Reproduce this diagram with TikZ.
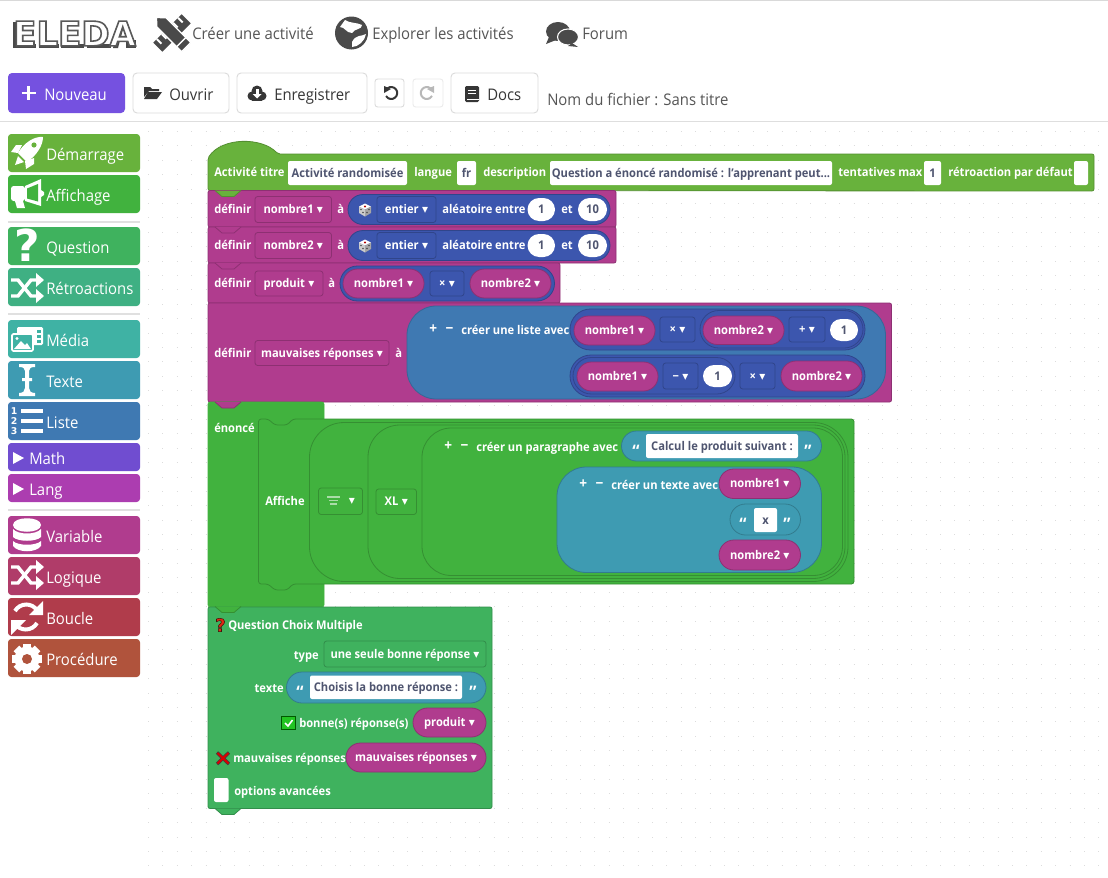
\documentclass[tikz,border=0pt]{standalone}
\usepackage{fontspec}
\usepackage{tikz}
\usetikzlibrary{shapes.misc}
\setmainfont{Open Sans}[FakeStretch=0.93]
\newfontfamily\symf{DejaVu Sans}
\newfontfamily\logof{DejaVu Sans}

\definecolor{navtext}{HTML}{555555}
\definecolor{navicon}{HTML}{4A4A4A}
\definecolor{btntext}{HTML}{363636}
\definecolor{btnline}{HTML}{DBDBDB}
\definecolor{newbtn}{HTML}{7551E0}
\definecolor{griddot}{HTML}{DCDCDC}
\definecolor{startgreen}{HTML}{68B23C}
\definecolor{startdark}{HTML}{538E30}
\definecolor{showgreen}{HTML}{41B23E}
\definecolor{showdark}{HTML}{358F32}
\definecolor{quizgreen}{HTML}{3FB25E}
\definecolor{quizdark}{HTML}{328E4B}
\definecolor{feedgreen}{HTML}{3FB083}
\definecolor{mediateal}{HTML}{3FB2A4}
\definecolor{textblue}{HTML}{3E9BB2}
\definecolor{textdark}{HTML}{327C8E}
\definecolor{listblue}{HTML}{3F79B2}
\definecolor{mathblue}{HTML}{3C56AE}
\definecolor{mathdark}{HTML}{30458B}
\definecolor{mathpurple}{HTML}{704DD0}
\definecolor{langpurple}{HTML}{AC3DB0}
\definecolor{varpink}{HTML}{B03C8E}
\definecolor{vardark}{HTML}{8D3072}
\definecolor{logicrose}{HTML}{B03C69}
\definecolor{looprose}{HTML}{B03C4B}
\definecolor{procbrown}{HTML}{B0533C}
\definecolor{fieldtext}{HTML}{4F5570}
\definecolor{checkgreen}{HTML}{22C422}

\newcommand{\uif}{\fontsize{12}{14}\selectfont}
\newcommand{\blkf}{\fontsize{9}{11}\selectfont\bfseries}
\newcommand{\ddn}{\hspace{2.5pt}{\symf ▾}}
\newcommand{\signs}{{\fontsize{11}{11}\selectfont +\hspace{6.4pt}−}}
% box given by its corners, in pixels of the screenshot
\newcommand{\bx}[7][]{\node[#1,minimum width={((#5)-(#3))*0.75pt},minimum height={((#6)-(#4))*0.75pt},inner sep=0pt,outer sep=0pt] (#2) at ({((#3)+(#5))/2},{((#4)+(#6))/2}) {#7};}
\newcommand{\notch}[3]{\filldraw[#1] (#2,#3) -- ++(7,6) -- ++(12,0) -- ++(7,-6);}

\tikzset{
  tbox/.style={text height=8pt,text depth=2pt},
  uilab/.style={font=\uif,text=navtext,inner sep=0pt,anchor=west,text height=8pt,text depth=3pt,yshift=-2pt},
  toolbtn/.style={rectangle,rounded corners=3pt,draw=btnline,line width=0.7pt,fill=white},
  sidebtn/.style={rectangle,rounded corners=2.5pt,fill=#1},
  sidelab/.style={font=\uif,text=white,inner sep=0pt,anchor=west,text height=8pt,text depth=3pt,yshift=-2.2pt},
  sidesep/.style={draw=black!12,line width=0.9pt},
  griddots/.style={griddot,line width=0.75pt,dash pattern=on 0.8pt off 10pt},
  blab/.style={font=\blkf,text=white,inner sep=0pt,anchor=west,tbox},
  quot/.style={font=\fontsize{13}{13}\selectfont\bfseries,text=white,inner sep=0pt,text height=7pt,text depth=0pt},
  field/.style={rectangle,rounded corners=1.5pt,fill=white,text=fieldtext,font=\blkf,tbox},
  numpill/.style={rounded rectangle,fill=white,text=fieldtext,font=\blkf,tbox},
  magdrop/.style={rectangle,rounded corners=2pt,draw=vardark,line width=0.6pt,fill=varpink,text=white,font=\blkf,tbox},
  bludrop/.style={rectangle,rounded corners=2pt,draw=mathdark,line width=0.6pt,fill=mathblue,text=white,font=\blkf,tbox},
  grndrop/.style={rectangle,rounded corners=2pt,draw=showdark,line width=0.6pt,fill=showgreen,text=white,font=\blkf,tbox},
  qdrop/.style={rectangle,rounded corners=2pt,draw=quizdark,line width=0.6pt,fill=quizgreen,text=white,font=\blkf,tbox},
  magpill/.style={rounded rectangle,draw=vardark,line width=0.6pt,fill=varpink,text=white,font=\blkf,tbox},
  blupill/.style={rounded rectangle,draw=mathdark,line width=0.6pt,fill=mathblue,tbox},
  txtpill/.style={rounded rectangle,draw=textdark,line width=0.6pt,fill=textblue,tbox},
  redge/.style={line width=0.6pt,rounded corners=2pt}
}

\newcommand{\shuffleicon}[2]{
  \begin{scope}[shift={(#1,#2)}]
    \draw[white,line width=2.6pt] (-15,-8) -- (-8,-8) -- (5,8) -- (11,8);
    \draw[white,line width=2.6pt] (-15,8) -- (-8,8) -- (5,-8) -- (11,-8);
    \fill[white] (10,-15) -- (18,-8) -- (10,-1) -- cycle;
    \fill[white] (10,1) -- (18,8) -- (10,15) -- cycle;
  \end{scope}
}
\newcommand{\diceicon}[2]{
  \begin{scope}[shift={(#1,#2)}]
    \fill[white] (-6,-3) -- (0,-6) -- (6,-3) -- (0,0) -- cycle;
    \fill[black!20] (-6,-3) -- (0,0) -- (0,7) -- (-6,3.5) -- cycle;
    \fill[black!35] (6,-3) -- (0,0) -- (0,7) -- (6,3.5) -- cycle;
    \fill[red!70!black] (0,-3) circle (1.1);
    \fill[black!70] (-4,0) circle (0.8) (-2,3) circle (0.8) (4,0) circle (0.8) (2,3) circle (0.8);
  \end{scope}
}

\begin{document}
\begin{tikzpicture}[x=0.75pt,y=-0.75pt]
  \useasboundingbox (0,0) rectangle (1108,878);
  \fill[white] (0,0) rectangle (1108,878);
  \draw[black!15,line width=1pt] (0,0.5) -- (1108,0.5);
  \draw[black!13,line width=0.8pt] (0,121.5) -- (1108,121.5);
  % dots of the workspace
  \foreach \r in {0,...,51}
    \draw[griddots] (148,{131.5+14.4*\r}) -- (1108,{131.5+14.4*\r});

  % top bar
  \foreach \xa/\xb in {16/37,42/60,64/85,90/112}{
    \fill[navicon] (\xa-3,22) rectangle (\xa+1,48);
    \fill[navicon] (\xa-3,44) rectangle (\xb-1,48);
  }
  \fill[navicon] (113,48) -- (121,22) -- (125,22) -- (118,48) -- cycle;
  \fill[navicon] (126,40) rectangle (136,48);
  \node[font=\logof\fontsize{25.5}{26}\selectfont\bfseries,inner sep=0pt,anchor=west] (logo) at (13,33.5) {\special{pdf:code 2 Tr 1.2 w 0.35 0.35 0.35 RG 1 1 1 rg}ELEDA\special{pdf:code 0 Tr}};
  % ruler and pencil
  \begin{scope}[shift={(172,33)}]
    \fill[navicon,rotate=45] (-20,-6.5) rectangle (20,6.5);
    \foreach \t in {-15,-8,8,15}
      \fill[white,rotate=45] (\t-1,-6.5) rectangle (\t+1,0);
    \filldraw[fill=navicon,rotate=-45,draw=white,line width=1pt] (-22,0) -- (-15,-6.5) -- (20,-6.5) -- (20,6.5) -- (-15,6.5) -- cycle;
    \draw[white,rotate=-45,line width=1pt] (13,-6.5) -- (13,6.5);
  \end{scope}
  \node[uilab] (create) at (192,34) {Créer une activité};
  % globe
  \fill[navicon] (351.5,33) circle (16.5);
  \fill[white] (345,20) .. controls (352,24) and (356,22) .. (362,25) .. controls (362,30) and (355,28) .. (352,33) .. controls (346,33) and (345,27) .. (340,27) -- cycle;
  \fill[white] (352,42) .. controls (356,34) and (361,37) .. (366,34) .. controls (365,41) and (358,47) .. (352,47) -- cycle;
  \node[uilab] (explore) at (372,34) {Explorer les activités};
  % speech bubbles
  \fill[navicon] (558,31.5) ellipse (12 and 9.5);
  \fill[navicon] (549,37) -- (546,44) -- (556,40) -- cycle;
  \filldraw[fill=navicon,draw=white,line width=0.8pt] (568,37) ellipse (10.5 and 8);
  \fill[navicon] (572,43) -- (578,47) -- (568,46) -- cycle;
  \node[uilab] (forum) at (582,34) {Forum};

  % toolbar
  \bx[rectangle,rounded corners=3pt,fill=newbtn]{newb}{8}{73}{125}{113}{}
  \draw[white,line width=2.2pt] (21.5,93) -- (35.5,93) (28.5,86) -- (28.5,100);
  \node[uilab,text=white] (newlab) at (44,94) {Nouveau};
  \bx[toolbtn]{openb}{133}{73}{229}{113}{}
  \fill[btntext] (144,87) -- (150,87) -- (152,89) -- (159,89) -- (159,91) -- (149,91) -- (144,97) -- cycle;
  \fill[btntext] (148,92) -- (162,92) -- (157,99) -- (144,99) -- cycle;
  \node[uilab,text=btntext] (openlab) at (169,94) {Ouvrir};
  \bx[toolbtn]{saveb}{237}{73}{367}{113}{}
  \fill[btntext] (252,96) circle (4.5);
  \fill[btntext] (262,96) circle (4.5);
  \fill[btntext] (257,91) circle (5.5);
  \fill[btntext] (252,94) rectangle (262,100.5);
  \fill[white] (255.5,89) rectangle (258.5,94);
  \fill[white] (252.5,94) -- (261.5,94) -- (257,98.5) -- cycle;
  \node[uilab,text=btntext] (savelab) at (274,94) {Enregistrer};
  \bx[toolbtn,rounded corners=2pt]{undob}{375}{79}{404}{107}{}
  \draw[btntext,line width=1.5pt] (386,90) arc (-150:150:6);
  \fill[btntext] (384,86) -- (384,93) -- (391,89) -- cycle;
  \bx[toolbtn,rounded corners=2pt,draw=black!8]{redob}{413}{79}{443}{107}{}
  \draw[black!28,line width=1.5pt] (432,90) arc (-30:-330:6);
  \fill[black!28] (434,86) -- (434,93) -- (427,89) -- cycle;
  \bx[toolbtn]{docsb}{451}{73}{538}{113}{}
  \fill[btntext,rounded corners=1pt] (465,86) rectangle (479,102);
  \fill[white] (468,90) rectangle (476,91);
  \fill[white] (468,93) rectangle (476,94);
  \fill[white] (466.5,98.5) rectangle (479,100);
  \node[uilab,text=btntext] (docslab) at (487,94) {Docs};
  \node[uilab,text=navtext] (filelab) at (547,99) {Nom du fichier : Sans titre};

  % side menu
  \foreach \nm/\ya/\yb/\bcol/\btxt/\tx in {dem/134/172/startgreen/Démarrage/46,aff/175/213/showgreen/Affichage/46,que/227/265/quizgreen/Question/46,ret/268/306/feedgreen/Rétroactions/46,med/320/358/mediateal/Média/46,tex/361/399/textblue/Texte/46,lis/402/440/listblue/Liste/46,mat/443/471/mathpurple/Math/29,lan/474/502/langpurple/Lang/29,var/516/554/varpink/Variable/46,log/557/595/logicrose/Logique/46,bou/598/636/looprose/Boucle/46,pro/639/677/procbrown/Procédure/46}{
    \bx[sidebtn=\bcol]{\nm box}{8}{\ya}{140}{\yb}{}
    \node[sidelab] (\nm lab) at (\tx,{(\ya+\yb)/2+1.5}) {\btxt};
  }
  \draw[sidesep] (8,222) -- (140,222);
  \draw[sidesep] (8,314) -- (140,314);
  \draw[sidesep] (8,510) -- (140,510);
  % rocket
  \begin{scope}[shift={(26,153)}]
    \fill[white] (17,-16) .. controls (8,-17) and (-2,-10) .. (-8,0) -- (1,9) .. controls (10,3) and (17,-7) .. (17,-16) -- cycle;
    \fill[white] (-4,-8) -- (-10,-8) -- (-15,-1) -- (-8,0) -- cycle;
    \fill[white] (8,5) -- (8,11) -- (0,16) -- (-1,8) -- cycle;
    \fill[white] (-8,3) -- (-2,9) -- (-11,12) -- cycle;
    \fill[startgreen] (8,-8) circle (2.6);
  \end{scope}
  % megaphone
  \fill[white,rounded corners=2pt] (11,186) rectangle (25,201);
  \fill[white] (15,201) -- (23,201) -- (25,208) -- (17,208) -- cycle;
  \fill[white] (25,186) -- (41,179) -- (41,206) -- (25,201) -- cycle;
  \fill[showgreen] (27,188.5) -- (38,184) -- (38,201.5) -- (27,198.5) -- cycle;
  \fill[white] (41,190) -- (44,192) -- (44,195) -- (41,197) -- cycle;
  % question mark
  \node[font=\symf\fontsize{33}{33}\selectfont\bfseries,text=white,inner sep=0pt] (quesicon) at (27,245) {?};
  \shuffleicon{26}{288}
  % media
  \fill[white,rounded corners=1pt] (17,327) rectangle (43,345);
  \foreach \hy in {331,336,341}
    \fill[mediateal] (37,\hy-1.5) rectangle (41,\hy+1.5);
  \filldraw[fill=mediateal,draw=white,line width=1.4pt,rounded corners=1pt] (12,334) rectangle (33,351);
  \fill[white] (14,349) -- (21,341) -- (25,345) -- (27,343) -- (31,349) -- cycle;
  \fill[white] (17,338.5) circle (1.6);
  % text cursor
  \fill[white] (19,364) -- (35,364) -- (35,367) .. controls (31,367) and (29,368) .. (29,371) -- (29,378) -- (32,378) -- (32,381) -- (29,381) -- (29,388) .. controls (29,391) and (31,393) .. (35,393) -- (35,396) -- (19,396) -- (19,393) .. controls (23,393) and (25,391) .. (25,388) -- (25,381) -- (22,381) -- (22,378) -- (25,378) -- (25,371) .. controls (25,368) and (23,367) .. (19,367) -- cycle;
  % numbered list
  \foreach \ly/\lnum in {411/1,421/2,431/3}{
    \fill[white] (21,\ly-2) rectangle (43,\ly+2);
    \node[font=\symf\fontsize{7}{7}\selectfont\bfseries,text=white,inner sep=0pt] (num\lnum) at (14,\ly) {\lnum};
  }
  \fill[white] (13,452) -- (24,458) -- (13,464) -- cycle;
  \fill[white] (13,483) -- (24,489) -- (13,495) -- cycle;
  % database
  \fill[white] (13,525) .. controls (13,516) and (41,516) .. (41,525) .. controls (41,534) and (13,534) .. (13,525) -- cycle;
  \fill[white] (13,529) .. controls (18,535) and (36,535) .. (41,529) -- (41,537) .. controls (36,542) and (18,542) .. (13,537) -- cycle;
  \fill[white] (13,541) .. controls (18,546) and (36,546) .. (41,541) -- (41,546) .. controls (36,553) and (18,553) .. (13,546) -- cycle;
  \shuffleicon{26}{575}
  % loop
  \draw[white,line width=3pt] (15,611) arc (-150:-35:13);
  \draw[white,line width=3pt] (37,623) arc (30:145:13);
  \fill[white] (43,601) -- (43,615) -- (29,615) -- cycle;
  \fill[white] (11,635) -- (11,620) -- (26,620) -- cycle;
  % gear
  \foreach \a in {0,45,...,135}
    \fill[white,rotate around={\a:(27,659)}] (23,644) rectangle (31,674);
  \fill[white] (27,659) circle (12.5);
  \fill[procbrown] (27,659) circle (5);

  % activity block
  \filldraw[fill=startgreen,draw=startdark,line width=0.6pt,rounded corners=1.5pt] (208,190.5) -- (208,158) .. controls (222,137) and (262,137) .. (278,154) -- (1094,154) -- (1094,191) -- cycle;
  \node[blab] (acttitle) at (214,172.5) {Activité titre};
  \bx[field]{acttitlef}{288}{161}{407}{185}{Activité randomisée}
  \node[blab] (actlang) at (414,172.5) {langue};
  \bx[field]{actlangf}{457}{161}{476}{185}{fr}
  \node[blab] (actdesc) at (483,172.5) {description};
  \bx[field]{actdescf}{550}{161}{832}{185}{Question a énoncé randomisé : l'apprenant peut...}
  \node[blab] (acttry) at (838,172.5) {tentatives max};
  \bx[field]{acttryf}{924}{161}{941}{185}{1}
  \node[blab] (actfeed) at (948,172.5) {rétroaction par défaut};
  \bx[field]{actfeedf}{1074}{161}{1088}{185}{}

  % set blocks
  \filldraw[fill=varpink,draw=vardark,line width=0.6pt,rounded corners=1.5pt] (208,190.5) rectangle (616,227);
  \filldraw[fill=varpink,draw=vardark,line width=0.6pt,rounded corners=1.5pt] (208,227) rectangle (616,263);
  \filldraw[fill=varpink,draw=vardark,line width=0.6pt,rounded corners=1.5pt] (208,263) rectangle (560,303);
  \filldraw[fill=varpink,draw=vardark,line width=0.6pt,rounded corners=1.5pt] (208,303) rectangle (891.5,402);
  \notch{fill=startgreen,draw=startdark,line width=0.6pt}{215}{190.5}
  \notch{fill=varpink,draw=vardark,line width=0.6pt}{215}{227}
  \notch{fill=varpink,draw=vardark,line width=0.6pt}{215}{263}

  \foreach \rw/\yc/\var in {a/209.5/nombre1,b/245.5/nombre2}{
    \node[blab] (def\rw) at (214,\yc) {définir};
    \bx[magdrop]{var\rw}{255}{\yc-13}{331.5}{\yc+13}{\var\ddn}
    \node[blab] (to\rw) at (337,\yc) {à};
    \bx[blupill]{rand\rw}{348}{\yc-15}{610}{\yc+15}{}
    \diceicon{365}{\yc}
    \bx[bludrop]{kind\rw}{377}{\yc-13}{436}{\yc+13}{entier\ddn}
    \node[blab] (between\rw) at (442,\yc) {aléatoire entre};
    \bx[numpill]{low\rw}{527.5}{\yc-11.5}{555}{\yc+11.5}{1}
    \node[blab] (and\rw) at (561,\yc) {et};
    \bx[numpill]{high\rw}{578}{\yc-11.5}{607}{\yc+11.5}{10}
  }

  \node[blab] (defc) at (214,283.5) {définir};
  \bx[magdrop]{varc}{255}{271}{323}{296}{produit\ddn}
  \node[blab] (toc) at (328,283.5) {à};
  \bx[blupill]{prodc}{340}{266}{554.5}{301}{}
  \bx[magpill]{prodl}{343}{269}{424}{298}{nombre1\ddn}
  \bx[bludrop]{prodop}{430}{271}{464}{296}{×\ddn}
  \bx[magpill]{prodr}{470}{269}{551}{298}{nombre2\ddn}

  \node[blab] (defd) at (214,353) {définir};
  \bx[magdrop]{vard}{255}{340.5}{389}{365.5}{mauvaises réponses\ddn}
  \node[blab] (tod) at (395,353) {à};
  \filldraw[fill=listblue,draw=listblue!85!black,line width=0.6pt,rounded corners=22pt] (407,306) rectangle (885.5,399);
  \node[blab] (listsigns) at (429,329.5) {\signs};
  \node[blab] (listlab) at (461,330) {créer une liste avec};
  % first item
  \bx[blupill]{itema}{570}{309}{865}{350}{}
  \bx[magpill]{itemal}{574}{316}{655}{345}{nombre1\ddn}
  \bx[bludrop]{itemaop}{660}{317}{695}{342}{×\ddn}
  \bx[blupill]{itemar}{700}{310.5}{863}{348}{}
  \bx[magpill]{itemarl}{703}{316}{784}{344.5}{nombre2\ddn}
  \bx[bludrop]{itemarop}{789}{317}{825}{342}{+\ddn}
  \bx[numpill]{itemarr}{830}{319}{858}{341}{1}
  % second item
  \bx[blupill]{itemb}{570}{355}{865}{397}{}
  \bx[blupill]{itembi}{573}{357.5}{735}{394}{}
  \bx[magpill]{itembl}{577}{362}{658}{391}{nombre1\ddn}
  \bx[bludrop]{itembop}{663}{363}{698}{389}{−\ddn}
  \bx[numpill]{itembn}{703}{365}{732}{387}{1}
  \bx[bludrop]{itembop2}{740}{363}{775}{389}{×\ddn}
  \bx[magpill]{itembr}{781}{361}{862}{391}{nombre2\ddn}

  % statement block
  \filldraw[fill=showgreen,draw=showgreen,line width=0.4pt,rounded corners=1.5pt] (208,402) rectangle (324,607);
  \fill[showgreen,rounded corners=1.5pt] (258,419) rectangle (854,584);
  \notch{fill=varpink,draw=vardark,line width=0.6pt}{215}{402}
  \node[blab] (stmlab) at (214,428) {énoncé};
  \draw[showdark,redge] (258.5,419) -- (268,419) -- (275,425) -- (287,425) -- (293,419) -- (854,419) -- (854,584) -- (293,584) -- (287,590) -- (275,590) -- (268,584) -- (258.5,584) -- cycle;
  \draw[showdark,line width=0.6pt,rounded corners=26pt] (309.5,422.5) rectangle (848,581.5);
  \draw[showdark,line width=0.6pt,rounded corners=24pt] (368,425) rectangle (845,578.5);
  \draw[showdark,line width=0.6pt,rounded corners=22pt] (422,428) rectangle (842.5,575.5);
  \node[blab] (showlab) at (265,501.5) {Affiche};
  \bx[grndrop]{aligndrop}{318.5}{488}{362.5}{514.5}{}
  \draw[showgreen!45!white,line width=1pt] (327,497) -- (340,497) (329,500.5) -- (338,500.5) (330,504) -- (337,504);
  \node[font=\blkf\symf,text=white,inner sep=0pt] (alignarrow) at (352,501) {▾};
  \bx[grndrop]{sizedrop}{376}{489}{416.5}{514.5}{XL\ddn}
  \node[blab] (parsigns) at (444,446.5) {\signs};
  \node[blab] (parlab) at (476,447) {créer un paragraphe avec};
  \bx[txtpill]{parpill}{621.5}{431}{821.5}{461}{}
  \node[quot] (parql) at (636,452.5) {“};
  \bx[field]{parfield}{646}{434}{798}{458}{Calcul le produit suivant :}
  \node[quot] (parqr) at (808,452.5) {”};
  \filldraw[fill=textblue,draw=textdark,line width=0.6pt,rounded corners=22pt] (557,467) rectangle (821.5,572.5);
  \node[blab] (txtsigns) at (579,484.5) {\signs};
  \node[blab] (txtlab) at (611,485) {créer un texte avec};
  \bx[magpill]{txta}{719}{469}{800.5}{498.5}{nombre1\ddn}
  \bx[txtpill]{txtb}{730}{504}{800.5}{535}{}
  \node[quot] (txtql) at (743,525.5) {“};
  \bx[field]{txtbf}{754}{508}{777}{532}{x}
  \node[quot] (txtqr) at (787,525.5) {”};
  \bx[magpill]{txtc}{719}{540}{800.5}{570}{nombre2\ddn}

  % question block
  \filldraw[fill=quizgreen,draw=quizdark,line width=0.6pt,rounded corners=1.5pt] (208,607) rectangle (492,808.5);
  \notch{fill=showgreen,draw=showdark,line width=0.6pt}{215}{606.5}
  \notch{fill=quizgreen,draw=quizdark,line width=0.6pt}{215}{808.5}
  \node[font=\symf\fontsize{13.5}{14}\selectfont\bfseries,inner sep=0pt] (qmark) at (220.5,625) {\special{pdf:code 2 Tr 0.4 w 0.25 0.08 0.05 RG 0.88 0.16 0.08 rg}?\special{pdf:code 0 Tr}};
  \node[blab] (qlab) at (228,625) {Question Choix Multiple};
  \node[blab,anchor=east] (typelab) at (319,655) {type};
  \bx[qdrop]{typedrop}{324}{641}{486}{667}{une seule bonne réponse\ddn}
  \node[blab,anchor=east] (textlab) at (284,688) {texte};
  \bx[txtpill]{textpill}{286.5}{672}{486}{703}{}
  \node[quot] (textql) at (300,693.5) {“};
  \bx[field]{textfield}{310}{675.5}{462}{699}{Choisis la bonne réponse :}
  \node[quot] (textqr) at (473,693.5) {”};
  \filldraw[fill=checkgreen,draw=green!35!black,line width=0.9pt] (281.5,716.5) rectangle (295.5,729.5);
  \draw[white,line width=1.2pt] (285,723) -- (288,726) -- (292.5,720);
  \node[blab] (rightlab) at (299,723) {bonne(s) réponse(s)};
  \bx[magpill]{rightpill}{413}{708}{486}{737}{produit\ddn}
  \draw[black!75,line width=2.6pt] (217,752.5) -- (229,764) (229,752.5) -- (217,764);
  \draw[red!85!black,line width=1.5pt] (217.5,753) -- (228.5,763.5) (228.5,753) -- (217.5,763.5);
  \node[blab] (wronglab) at (233,758) {mauvaises réponses};
  \bx[magpill]{wrongpill}{346}{743}{486}{772}{mauvaises réponses\ddn}
  \bx[field]{optbox}{214}{778}{228.5}{802}{}
  \node[blab] (optlab) at (234,791) {options avancées};
\end{tikzpicture}
\end{document}
